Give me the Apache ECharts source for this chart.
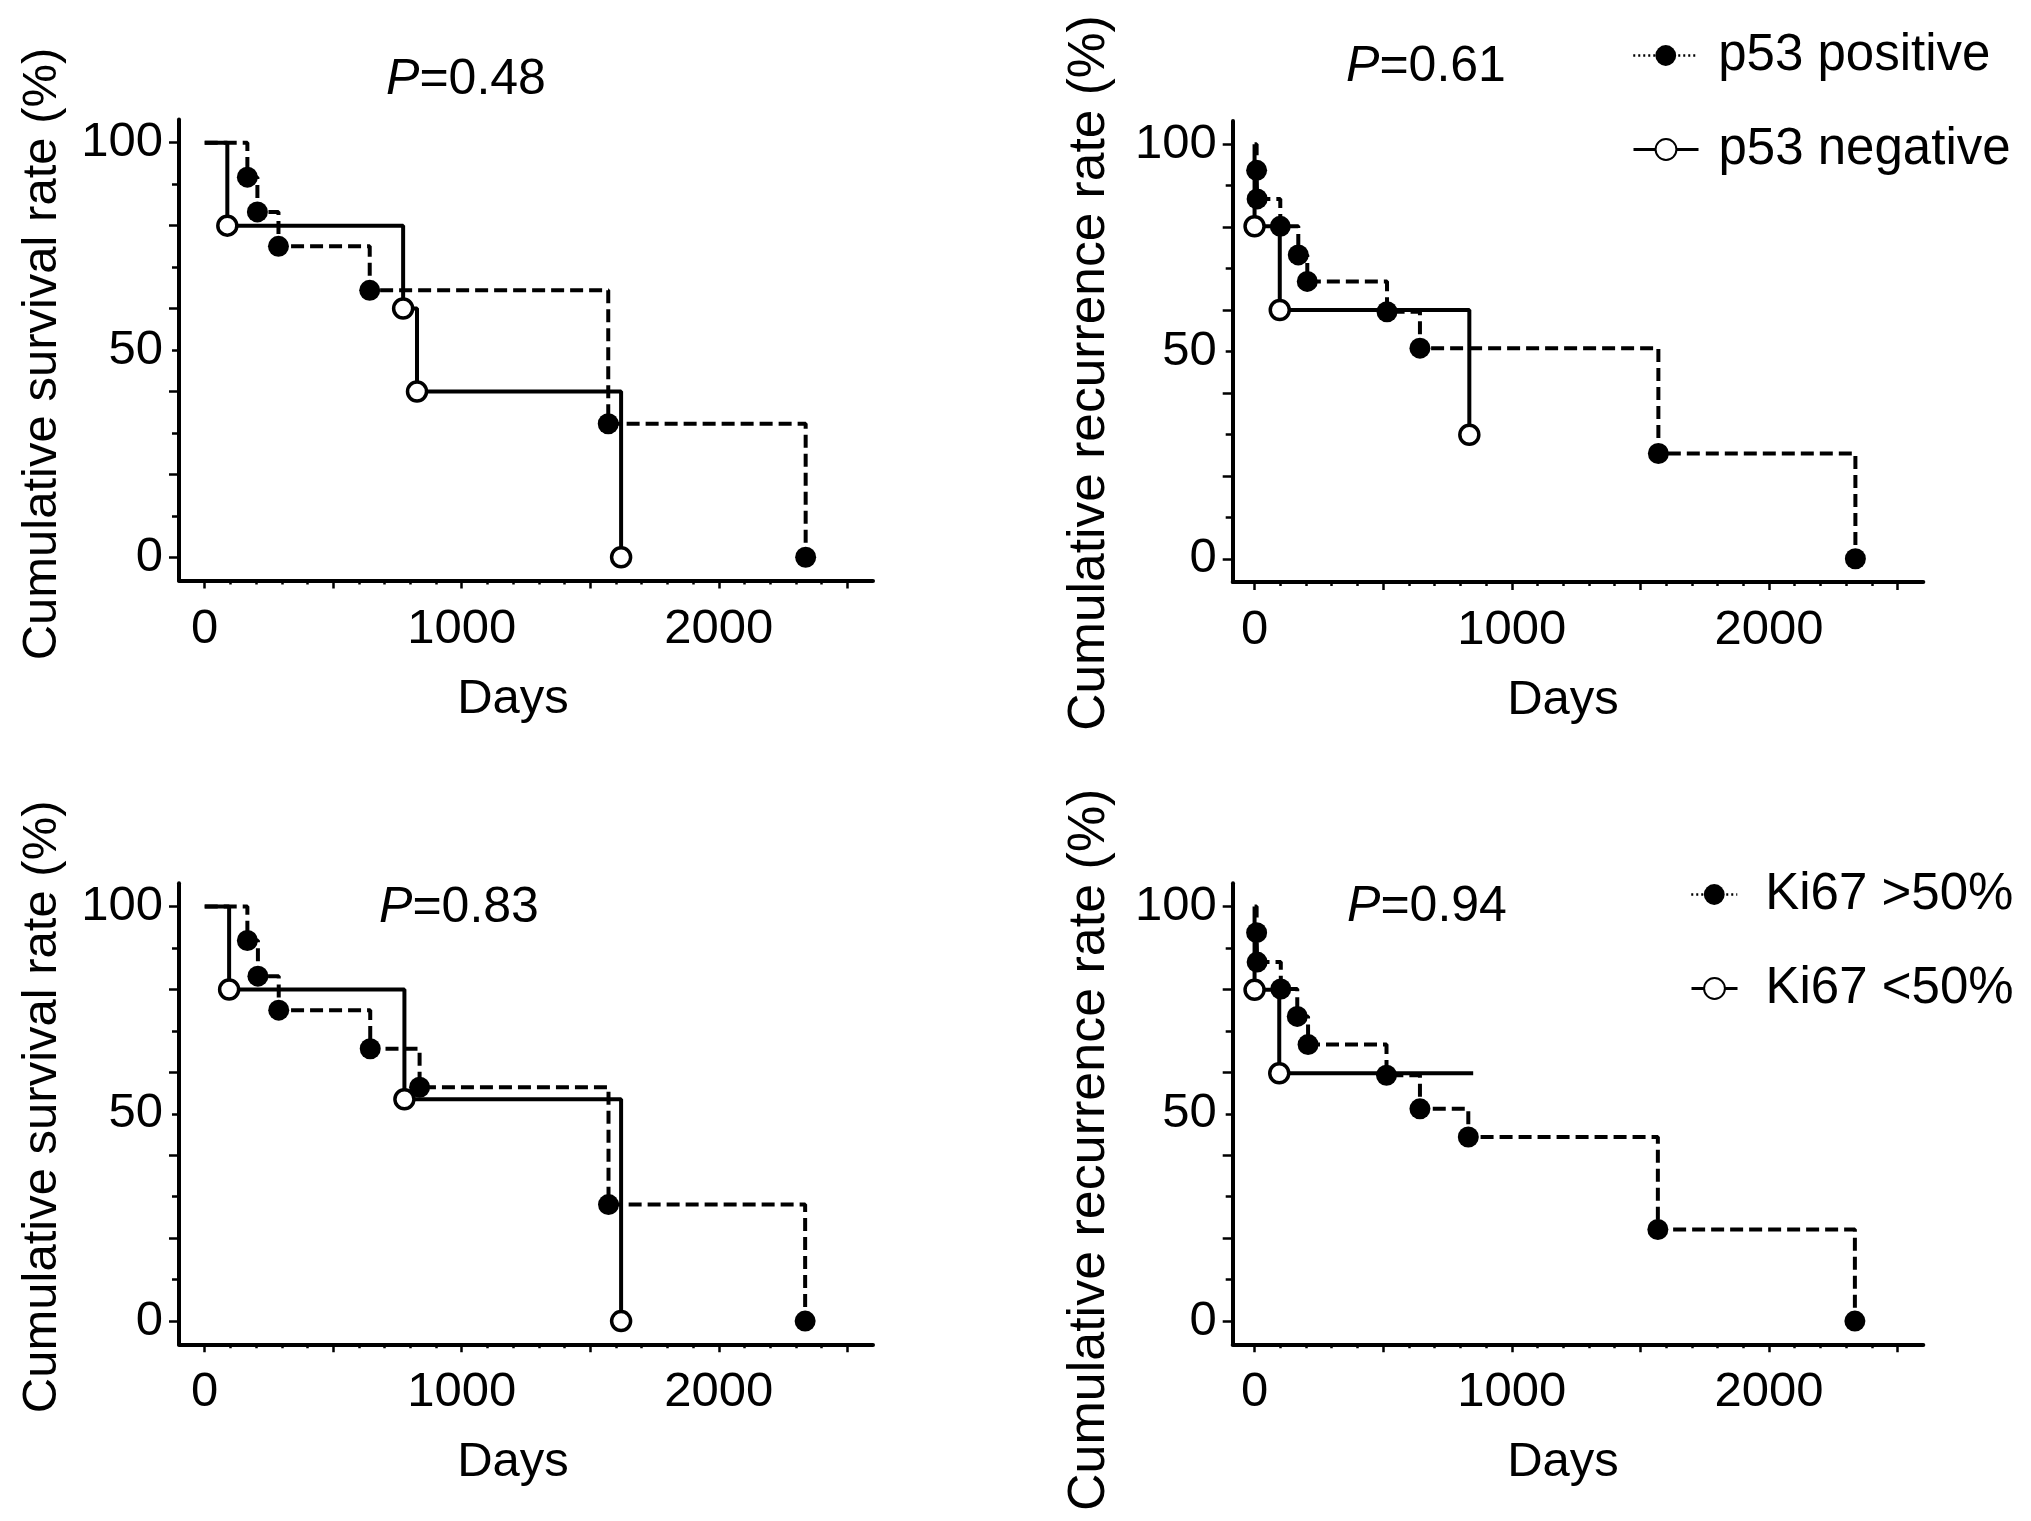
<!DOCTYPE html>
<html>
<head>
<meta charset="utf-8">
<script src="https://cdn.jsdelivr.net/npm/echarts@6/dist/echarts.min.js"></script>
<style>
  html, body { margin: 0; padding: 0; background: #ffffff; }
  #chart { width: 2031px; height: 1521px; }
</style>
</head>
<body>
<div id="chart"></div>
<script>
// ---------------- data ----------------
// Top-left: cumulative survival by p53 status (P=0.48)
const tlPosDays = [0, 166, 205, 287, 642, 1570, 2338];
const tlPosRate = [100, 91.7, 83.3, 75.0, 64.4, 32.2, 0];
const tlNegDays = [0, 88, 772, 826, 1620];
const tlNegRate = [100, 80, 60, 40, 0];

// Top-right: cumulative recurrence by p53 status (P=0.61)
const trPosDays = [0, 8, 10, 100, 170, 205, 515, 643, 1570, 2336];
const trPosRate = [100, 93.7, 86.8, 80.2, 73.3, 66.9, 59.6, 50.8, 25.4, 0];
const trNegDays = [0, 0, 98, 835];
const trNegRate = [100, 80.2, 60, 29.9];

// Bottom-left: cumulative survival by Ki67 (P=0.83)
const blPosDays = [0, 166, 207, 288, 644, 836, 1571, 2336];
const blPosRate = [100, 91.8, 83.2, 75.0, 65.7, 56.4, 28.1, 0];
const blNegDays = [0, 95, 777, 1620];
const blNegRate = [100, 80, 53.5, 0];

// Bottom-right: cumulative recurrence by Ki67 (P=0.94)
const brPosDays = [0, 8, 10, 102, 166, 208, 513, 643, 831, 1568, 2334];
const brPosRate = [100, 93.7, 86.6, 80.1, 73.5, 66.7, 59.3, 51.2, 44.4, 22.1, 0];
const brNegDays = [0, 0, 96, 850];
const brNegRate = [100, 79.9, 59.8, 59.8];
const brNegEvent = [false, true, true, false]; // last point = end of follow-up (no marker)

// Axis tick / label values
const xLabelDays = [0, 1000, 2000];
const xMajorTickDays = [0, 500, 1000, 1500, 2000, 2500];
const xMinorTickDays = [100, 200, 300, 400, 600, 700, 800, 900, 1100, 1200, 1300, 1400,
                        1600, 1700, 1800, 1900, 2100, 2200, 2300, 2400];
const yLabelValues = [0, 50, 100];
const yMajorTicks = [0, 20, 40, 60, 80, 100];
const yMinorTicks = [10, 30, 50, 70, 90];

const groupNames = { p53: ['p53 positive', 'p53 negative'], ki67: ['Ki67 >50%', 'Ki67 <50%'] };
const yTitles = { surv: 'Cumulative survival rate (%)', rec: 'Cumulative recurrence rate (%)' };
const pValues = ['0.48', '0.61', '0.83', '0.94'];

// ---------------- chart construction ----------------
const FONT = "'Liberation Sans', Arial, Helvetica, sans-serif";
const FS = 49;
const BLACK = '#000000';

function kmData(days, rates, events) {
  return days.map(function (d, i) {
    const marked = events ? events[i] : i > 0;
    return marked ? [d, rates[i]] : { value: [d, rates[i]], symbol: 'none' };
  });
}

const panels = [
  { grid: { left: 179, top: 119.5, width: 694, height: 461 }, xMin: -100, yTitle: yTitles.surv, yFS: 49,
    names: groupNames.p53, pos: kmData(tlPosDays, tlPosRate), neg: kmData(tlNegDays, tlNegRate),
    p: pValues[0], pXY: [466, 55], yNameGap: 112, yNamePad: [0, 8, 0, 0], xNamePad: [0, 26, 0, 0] },
  { grid: { left: 1232.7, top: 121, width: 690.6, height: 461 }, xMin: -85, yTitle: yTitles.rec, yFS: 51.5,
    names: groupNames.p53, pos: kmData(trPosDays, trPosRate), neg: kmData(trNegDays, trNegRate),
    p: pValues[1], pXY: [1426, 42], yNameGap: 117, yNamePad: [0, 43, 0, 0], xNamePad: [0, 30, 0, 0] },
  { grid: { left: 179, top: 883.3, width: 694, height: 461 }, xMin: -100, yTitle: yTitles.surv, yFS: 49,
    names: groupNames.ki67, pos: kmData(blPosDays, blPosRate), neg: kmData(blNegDays, blNegRate),
    p: pValues[2], pXY: [459, 883], yNameGap: 112, yNamePad: [0, 0, 0, 14], xNamePad: [0, 26, 0, 0] },
  { grid: { left: 1232.7, top: 883.3, width: 690.6, height: 461 }, xMin: -85, yTitle: yTitles.rec, yFS: 52,
    names: groupNames.ki67, pos: kmData(brPosDays, brPosRate), neg: kmData(brNegDays, brNegRate, brNegEvent),
    p: pValues[3], pXY: [1427, 882], yNameGap: 117, yNamePad: [0, 72, 0, 0], xNamePad: [0, 30, 0, 0] }
];

const grids = [], xAxes = [], yAxes = [], series = [], titles = [];
const plainNumber = function (v) { return String(v); };

panels.forEach(function (p, g) {
  grids.push(Object.assign({ containLabel: false, outerBoundsMode: 'none' }, p.grid));
  // main x axis (line, major ticks, labels, name)
  xAxes.push({
    type: 'value', gridIndex: g, position: 'bottom', min: p.xMin, max: 2600,
    name: 'Days', nameLocation: 'middle', nameGap: 94,
    nameTextStyle: { fontFamily: FONT, fontSize: FS, lineHeight: FS, color: BLACK, padding: p.xNamePad },
    axisLine: { show: true, onZero: false, lineStyle: { color: BLACK, width: 4 } },
    axisTick: { show: true, inside: false, length: 8, customValues: xMajorTickDays, lineStyle: { color: BLACK, width: 2.5 } },
    axisLabel: { show: true, margin: 24, customValues: xLabelDays, formatter: plainNumber,
                 fontFamily: FONT, fontSize: FS, lineHeight: FS, color: BLACK },
    splitLine: { show: false }
  });
  // secondary x axis (minor ticks only)
  xAxes.push({
    type: 'value', gridIndex: g, position: 'bottom', min: p.xMin, max: 2600,
    axisLine: { show: false, onZero: false },
    axisTick: { show: true, inside: false, length: 4, customValues: xMinorTickDays, lineStyle: { color: BLACK, width: 2.5 } },
    axisLabel: { show: false }, splitLine: { show: false }
  });
  yAxes.push({
    type: 'value', gridIndex: g, position: 'left', min: -5.6, max: 105.6,
    name: p.yTitle, nameLocation: 'middle', nameRotate: 90, nameGap: p.yNameGap,
    nameTextStyle: { fontFamily: FONT, fontSize: p.yFS, lineHeight: p.yFS, color: BLACK, padding: p.yNamePad },
    axisLine: { show: true, onZero: false, lineStyle: { color: BLACK, width: 4 } },
    axisTick: { show: true, inside: false, length: 10, customValues: yMajorTicks, lineStyle: { color: BLACK, width: 2.5 } },
    axisLabel: { show: true, margin: 16, customValues: yLabelValues, formatter: plainNumber,
                 fontFamily: FONT, fontSize: FS, lineHeight: FS, color: BLACK },
    splitLine: { show: false }
  });
  yAxes.push({
    type: 'value', gridIndex: g, position: 'left', min: -5.6, max: 105.6,
    axisLine: { show: false, onZero: false },
    axisTick: { show: true, inside: false, length: 7, customValues: yMinorTicks, lineStyle: { color: BLACK, width: 2.5 } },
    axisLabel: { show: false }, splitLine: { show: false }
  });
  // positive group: dashed, filled markers
  series.push({
    type: 'line', name: p.names[0], xAxisIndex: 2 * g, yAxisIndex: 2 * g,
    step: 'end', data: p.pos, showAllSymbol: true,
    symbol: 'circle', symbolSize: 21,
    lineStyle: { color: BLACK, width: 4, type: [13, 6] },
    itemStyle: { color: BLACK, borderColor: BLACK, borderWidth: 0 },
    z: 3
  });
  // negative group: solid, open markers
  series.push({
    type: 'line', name: p.names[1], xAxisIndex: 2 * g, yAxisIndex: 2 * g,
    step: 'end', data: p.neg, showAllSymbol: true,
    symbol: 'circle', symbolSize: 19,
    lineStyle: { color: BLACK, width: 4, type: 'solid' },
    itemStyle: { color: '#ffffff', borderColor: BLACK, borderWidth: 3.5 },
    z: 2
  });
  titles.push({
    text: '{i|P}=' + p.p, left: p.pXY[0], top: p.pXY[1], textAlign: 'center', padding: 0,
    textStyle: {
      fontFamily: FONT, fontSize: 50, lineHeight: 50, fontWeight: 'normal', color: BLACK,
      rich: { i: { fontFamily: FONT, fontSize: 50, lineHeight: 50, fontStyle: 'italic', color: BLACK } }
    }
  });
});

function legendRow(name, left, top, itemWidth, gap, dotted) {
  return {
    show: true, orient: 'horizontal', left: left, top: top, padding: 0,
    itemWidth: itemWidth, itemHeight: 26, selectedMode: false,
    data: [{ name: name, lineStyle: dotted ? { type: [2, 3], width: 2.5 } : { type: 'solid', width: 3 } }],
    textStyle: { fontFamily: FONT, fontSize: 51, lineHeight: 50, color: BLACK, padding: [0, 0, 0, gap] }
  };
}

const legends = [
  legendRow(groupNames.p53[0], 1632, 30, 65, 15, true),
  legendRow(groupNames.p53[1], 1632, 124, 65, 15, false),
  legendRow(groupNames.ki67[0], 1690, 869, 46, 23, true),
  legendRow(groupNames.ki67[1], 1690, 963, 46, 23, false)
];

const chart = echarts.init(document.getElementById('chart'), null, { renderer: 'canvas' });
chart.setOption({
  animation: false,
  backgroundColor: '#ffffff',
  textStyle: { fontFamily: FONT },
  title: titles,
  legend: legends,
  grid: grids,
  xAxis: xAxes,
  yAxis: yAxes,
  series: series
});
</script>
</body>
</html>
